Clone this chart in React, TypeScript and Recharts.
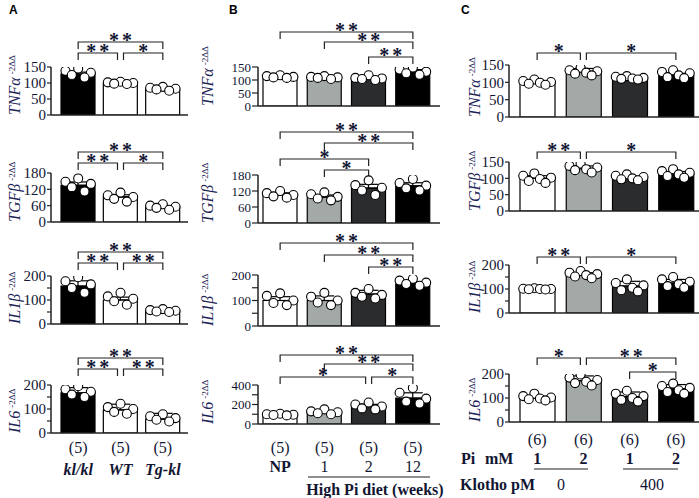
import React from 'react'
import { ComposedChart, Bar, Cell, ErrorBar, Scatter, XAxis, YAxis, ReferenceLine } from 'recharts'

const SERIF = '"Liberation Serif", "DejaVu Serif", serif'
const SANS = '"Liberation Sans", Arial, sans-serif'
const INK = '#121633'
const NAVY = '#1c2456'
const AX = '#222'

type Sig = [number, number, string]

// ---- groups / labels
const groupsA = ['kl/kl', 'WT', 'Tg-kl']
const countsA = ['(5)', '(5)', '(5)']
const groupsB = ['NP', '1 wk', '2 wk', '12 wk']
const countsB = ['(5)', '(5)', '(5)', '(5)']
const weeksB = ['NP', '1', '2', '12']
const groupsC = ['Pi1 K0', 'Pi2 K0', 'Pi1 K400', 'Pi2 K400']
const countsC = ['(6)', '(6)', '(6)', '(6)']
const piC = ['1', '2', '1', '2']
const klothoC = ['0', '400']

// ---- axis ticks
const ticks150 = [0, 50, 100, 150]
const ticks180 = [0, 60, 120, 180]
const ticks200 = [0, 50, 100, 150, 200]
const shown200 = [0, 100, 200]
const ticks400 = [0, 100, 200, 300, 400]
const shown400 = [0, 200, 400]

// ---- panel A
const aTnfMean = [128, 98, 80]
const aTnfErr = [6, 4, 3]
const aTnfDots = [[145, 138, 132, 125, 117], [104, 102, 100, 98, 97], [88, 85, 82, 80, 76]]
const aTnfSig: Sig[] = [[0, 2, '**'], [0, 1, '**'], [1, 2, '*']]

const aTgfMean = [135, 92, 55]
const aTgfErr = [12, 8, 5]
const aTgfDots = [[160, 148, 140, 128, 112], [108, 98, 92, 85, 75], [65, 60, 56, 52, 45]]
const aTgfSig: Sig[] = [[0, 2, '**'], [0, 1, '**'], [1, 2, '*']]

const aIl1Mean = [158, 100, 54]
const aIl1Err = [22, 12, 5]
const aIl1Dots = [[195, 178, 165, 150, 130], [130, 115, 105, 95, 80], [62, 58, 55, 52, 50]]
const aIl1Sig: Sig[] = [[0, 2, '**'], [0, 1, '**'], [1, 2, '**']]

const aIl6Mean = [167, 96, 58]
const aIl6Err = [22, 24, 24]
const aIl6Dots = [[195, 182, 172, 160, 150], [122, 108, 100, 88, 80], [78, 70, 62, 55, 48]]
const aIl6Sig: Sig[] = [[0, 2, '**'], [0, 1, '**'], [1, 2, '**']]

// ---- panel B
const bTnfMean = [112, 110, 106, 132]
const bTnfErr = [4, 4, 6, 8]
const bTnfDots = [[118, 115, 112, 110, 108], [115, 112, 110, 108, 104], [118, 108, 106, 104, 100], [148, 140, 132, 126, 120]]
const bTnfSig: Sig[] = [[0, 3, '**'], [1, 3, '**'], [2, 3, '**']]

const bTgfMean = [105, 97, 131, 139]
const bTgfErr = [8, 8, 14, 12]
const bTgfDots = [[120, 112, 105, 100, 95], [115, 108, 98, 92, 85], [160, 142, 132, 122, 105], [165, 150, 140, 130, 122]]
const bTgfSig: Sig[] = [[0, 3, '**'], [1, 3, '**'], [0, 2, '*'], [1, 2, '*']]

const bIl1Mean = [100, 100, 125, 165]
const bIl1Err = [15, 18, 15, 8]
const bIl1Dots = [[128, 118, 100, 90, 82], [130, 115, 100, 92, 82], [145, 130, 122, 115, 108], [185, 178, 170, 165, 158]]
const bIl1Sig: Sig[] = [[0, 3, '**'], [1, 3, '**'], [2, 3, '**']]

const bIl6Mean = [95, 120, 180, 265]
const bIl6Err = [8, 15, 22, 55]
const bIl6Dots = [[105, 100, 95, 92, 88], [150, 130, 120, 110, 100], [220, 200, 180, 160, 150], [370, 320, 260, 230, 210]]
const bIl6Sig: Sig[] = [[0, 3, '**'], [1, 3, '**'], [0, 2, '*'], [2, 3, '*']]

// ---- panel C
const cTnfMean = [100, 130, 112, 120]
const cTnfErr = [5, 10, 4, 6]
const cTnfDots = [[108, 104, 101, 99, 96, 93], [142, 135, 132, 128, 125, 120], [118, 116, 113, 111, 110, 108], [135, 130, 126, 120, 115, 112]]
const cTnfSig: Sig[] = [[0, 1, '*'], [1, 3, '*']]

const cTgfMean = [100, 130, 103, 113]
const cTgfErr = [8, 8, 4, 8]
const cTgfDots = [[115, 108, 102, 98, 92, 86], [145, 138, 133, 128, 125, 118], [112, 108, 104, 100, 97, 94], [128, 122, 117, 112, 107, 102]]
const cTgfSig: Sig[] = [[0, 1, '**'], [1, 3, '*']]

const cIl1Mean = [100, 158, 112, 125]
const cIl1Err = [3, 10, 20, 15]
const cIl1Dots = [[103, 101, 100, 100, 99, 98], [175, 168, 162, 158, 152, 145], [140, 125, 115, 105, 95, 90], [150, 140, 130, 120, 112, 105]]
const cIl1Sig: Sig[] = [[0, 1, '**'], [1, 3, '*']]

const cIl6Mean = [100, 172, 105, 138]
const cIl6Err = [6, 20, 20, 18]
const cIl6Dots = [[118, 108, 102, 98, 95, 90], [198, 185, 175, 168, 162, 152], [130, 118, 108, 100, 92, 85], [160, 150, 142, 132, 125, 118]]
const cIl6Sig: Sig[] = [[0, 1, '*'], [1, 3, '**'], [2, 3, '*']]

const colorsA = ['#000', '#fff', '#fff']
const colorsBC = ['#fff', '#a3a9a7', '#2a2c2e', '#000']

interface Panel { left: number; axisX: number; right: number; padL: number; padR: number; barW: number; tick: number; labOff: number; font: number }
const PA: Panel = { left: 0, axisX: 51, right: 188, padL: 6, padR: 4, barW: 34, tick: 4, labOff: 31, font: 15 }
const PB: Panel = { left: 195, axisX: 258, right: 440, padL: 0, padR: 5, barW: 34, tick: 6, labOff: 45, font: 13 }
const PC: Panel = { left: 455, axisX: 509, right: 699, padL: 5, padR: 0, barW: 35, tick: 4, labOff: 29, font: 15 }

interface Bottom { counts: string[]; names?: string[]; countDy: number; nameDy: number; bold: boolean[]; italic: boolean }

interface RowProps {
  groups: string[]; colors: string[]; means: number[]; errs: number[]; dots: number[][]
  sig: Sig[]; sigY: number[]; max: number; ticks: number[]; shown: number[]
  top: number; base: number; panel: Panel; bottom?: Bottom
}

const perm5 = [2, 0, 4, 1, 3]
const perm6 = [2, 0, 5, 3, 1, 4]

function BottomTick(props: any) {
  const { x, y, index, spec } = props
  const b: Bottom = spec
  return (
    <g>
      <text x={x} y={y + b.countDy} textAnchor="middle" fontFamily={SERIF} fontSize={16} fill={INK}>{b.counts[index]}</text>
      {b.names && (
        <text x={x} y={y + b.nameDy} textAnchor="middle" fontFamily={SERIF} fontSize={16}
          fontWeight={b.bold[index] ? 700 : 400} fontStyle={b.italic ? 'italic' : 'normal'} fill={INK}>{b.names[index]}</text>
      )}
    </g>
  )
}

function bracketShape(label: string, inL: number, inR: number) {
  return (sp: any) => {
    const x1 = sp.x1 + inL
    const x2 = sp.x2 - inR
    const y = sp.y1
    return (
      <g>
        <path d={`M${x1},${y + 7}V${y}H${x2}V${y + 7}`} fill="none" stroke={AX} strokeWidth={1.2} />
        <text x={(x1 + x2) / 2 + 1.5} y={y + 5} textAnchor="middle" fontFamily={SERIF} fontSize={20}
          fontWeight={700} letterSpacing={3} fill={INK}>{label}</text>
      </g>
    )
  }
}

function Row(p: RowProps) {
  const L = p.panel
  const MT = 80
  const MB = p.bottom ? 75 : 12
  const plotH = p.base - p.top
  const W = L.right - L.left
  const H = MT + plotH + 1 + MB
  const n = p.groups.length
  const table = p.groups.map((g, i) => ({ name: g, mean: p.means[i], err: [0, p.errs[i]] }))
  const pts = p.dots.flatMap((d, g) => {
    const perm = d.length === 6 ? perm6 : perm5
    return d.map((v, i) => ({ x: g + (perm[i] / (d.length - 1) - 0.5) * 0.6, v }))
  })
  const toVal = (y: number) => (p.max * (p.base - y)) / plotH
  return (
    <div style={{ position: 'absolute', left: L.left, top: p.top - MT }}>
      <ComposedChart width={W} height={H} data={table} margin={{ top: MT, right: 0, bottom: MB, left: 0 }}>
        <XAxis dataKey="name" height={1} padding={{ left: L.padL, right: L.padR }} interval={0}
          axisLine={{ stroke: AX, strokeWidth: 1.5 }} tickLine={false} tickSize={0} tickMargin={0}
          tick={p.bottom ? (tp: any) => <BottomTick {...tp} spec={p.bottom} /> : false} />
        <XAxis xAxisId="n" type="number" dataKey="x" domain={[-0.5, n - 0.5]} allowDataOverflow hide
          padding={{ left: L.padL, right: L.padR }} />
        <YAxis width={L.axisX - L.left} domain={[0, p.max]} ticks={p.ticks} interval={0} allowDataOverflow
          tickFormatter={(v: number) => (p.shown.includes(v) ? String(v) : '')}
          tickSize={L.tick} tickMargin={1}
          tick={{ fontSize: L.font, fontFamily: SERIF, fill: INK }}
          axisLine={{ stroke: AX, strokeWidth: 1.5 }} tickLine={{ stroke: AX, strokeWidth: 1.2 }} />
        <Bar dataKey="mean" barSize={L.barW} stroke="#000" strokeWidth={1.2} isAnimationActive={false}>
          {table.map((_, i) => <Cell key={i} fill={p.colors[i]} />)}
          <ErrorBar dataKey="err" direction="y" width={10} stroke="#000" strokeWidth={1.2} />
        </Bar>
        <Scatter xAxisId="n" data={pts} dataKey="v" isAnimationActive={false}
          shape={(sp: any) => <circle cx={sp.cx} cy={sp.cy} r={4.5} fill="#fff" stroke="#000" strokeWidth={1.1} />} />
        {p.sig.map(([a, b, lab], i) => {
          const y = p.sigY[i]
          const share = (idx: number) => p.sig.some(([a2, b2], j) => j !== i && p.sigY[j] === y && (a2 === idx || b2 === idx))
          return (
            <ReferenceLine key={i} xAxisId="n" ifOverflow="visible"
              segment={[{ x: a, y: toVal(y) }, { x: b, y: toVal(y) }]}
              shape={bracketShape(lab, share(a) ? 3 : 0, share(b) ? 3 : 0)} />
          )
        })}
      </ComposedChart>
    </div>
  )
}

function YLab({ x, y, name }: { x: number; y: number; name: string }) {
  return (
    <text transform={`translate(${x},${y}) rotate(-90)`} fontFamily={SERIF} fill={NAVY}>
      <tspan fontStyle="italic" fontSize={16}>{name}</tspan>
      <tspan fontSize={9} dx={3} dy={-5}>-2ΔΔ</tspan>
    </text>
  )
}

const botA: Bottom = { counts: countsA, names: groupsA, countDy: 20, nameDy: 42, bold: [true, true, true], italic: true }
const botB: Bottom = { counts: countsB, names: weeksB, countDy: 29, nameDy: 48, bold: [true, false, false, false], italic: false }
const botC: Bottom = { counts: countsC, names: piC, countDy: 23, nameDy: 42, bold: [true, true, true, true], italic: false }

const rows: (RowProps & { name: string })[] = [
  { name: 'TNFα', groups: groupsA, colors: colorsA, means: aTnfMean, errs: aTnfErr, dots: aTnfDots, sig: aTnfSig, sigY: [42, 53, 53], max: 150, ticks: ticks150, shown: ticks150, top: 67, base: 115, panel: PA },
  { name: 'TGFβ', groups: groupsA, colors: colorsA, means: aTgfMean, errs: aTgfErr, dots: aTgfDots, sig: aTgfSig, sigY: [152, 163, 163], max: 180, ticks: ticks180, shown: ticks180, top: 173, base: 222, panel: PA },
  { name: 'IL1β', groups: groupsA, colors: colorsA, means: aIl1Mean, errs: aIl1Err, dots: aIl1Dots, sig: aIl1Sig, sigY: [252, 263, 263], max: 200, ticks: ticks200, shown: shown200, top: 276, base: 324, panel: PA },
  { name: 'IL6', groups: groupsA, colors: colorsA, means: aIl6Mean, errs: aIl6Err, dots: aIl6Dots, sig: aIl6Sig, sigY: [358, 369, 369], max: 200, ticks: ticks200, shown: shown200, top: 385, base: 433, panel: PA, bottom: botA },

  { name: 'TNFα', groups: groupsB, colors: colorsBC, means: bTnfMean, errs: bTnfErr, dots: bTnfDots, sig: bTnfSig, sigY: [32, 42, 57], max: 150, ticks: ticks150, shown: ticks150, top: 67, base: 106, panel: PB },
  { name: 'TGFβ', groups: groupsB, colors: colorsBC, means: bTgfMean, errs: bTgfErr, dots: bTgfDots, sig: bTgfSig, sigY: [132, 143, 159, 170], max: 180, ticks: ticks180, shown: ticks180, top: 175, base: 223, panel: PB },
  { name: 'IL1β', groups: groupsB, colors: colorsBC, means: bIl1Mean, errs: bIl1Err, dots: bIl1Dots, sig: bIl1Sig, sigY: [243, 255, 267], max: 200, ticks: ticks200, shown: shown200, top: 275, base: 326, panel: PB },
  { name: 'IL6', groups: groupsB, colors: colorsBC, means: bIl6Mean, errs: bIl6Err, dots: bIl6Dots, sig: bIl6Sig, sigY: [355, 364, 377, 377], max: 400, ticks: ticks400, shown: shown400, top: 385, base: 424, panel: PB, bottom: botB },

  { name: 'TNFα', groups: groupsC, colors: colorsBC, means: cTnfMean, errs: cTnfErr, dots: cTnfDots, sig: cTnfSig, sigY: [53, 53], max: 150, ticks: ticks150, shown: ticks150, top: 65, base: 117, panel: PC },
  { name: 'TGFβ', groups: groupsC, colors: colorsBC, means: cTgfMean, errs: cTgfErr, dots: cTgfDots, sig: cTgfSig, sigY: [152, 152], max: 150, ticks: ticks150, shown: ticks150, top: 162, base: 211, panel: PC },
  { name: 'IL1β', groups: groupsC, colors: colorsBC, means: cIl1Mean, errs: cIl1Err, dots: cIl1Dots, sig: cIl1Sig, sigY: [257, 257], max: 200, ticks: ticks200, shown: shown200, top: 265, base: 313, panel: PC },
  { name: 'IL6', groups: groupsC, colors: colorsBC, means: cIl6Mean, errs: cIl6Err, dots: cIl6Dots, sig: cIl6Sig, sigY: [358, 358, 372], max: 200, ticks: ticks200, shown: shown200, top: 374, base: 422, panel: PC, bottom: botC },
]

export default function App() {
  const bold = { fontFamily: SERIF, fontSize: 16, fontWeight: 700, fill: INK } as const
  return (
    <div style={{ position: 'absolute', left: 0, top: 0, width: 699, height: 498, background: '#fff', overflow: 'hidden' }}>
      {rows.map((r, i) => <Row key={i} {...r} />)}
      <svg width={699} height={498} style={{ position: 'absolute', left: 0, top: 0, pointerEvents: 'none' }}>
        <text x={9} y={14} fontFamily={SANS} fontSize={12} fontWeight={700}>A</text>
        <text x={229} y={14} fontFamily={SANS} fontSize={12} fontWeight={700}>B</text>
        <text x={461} y={14} fontFamily={SANS} fontSize={12} fontWeight={700}>C</text>
        {rows.map((r, i) => <YLab key={i} x={r.panel.axisX - r.panel.labOff} y={r.base} name={r.name} />)}
        <line x1={308} x2={430} y1={477} y2={477} stroke={AX} strokeWidth={1.2} />
        <text x={375} y={495} textAnchor="middle" {...bold}>High Pi diet (weeks)</text>
        <text x={461} y={464} {...bold}>Pi</text>
        <text x={485} y={464} {...bold}>mM</text>
        <line x1={534} x2={588} y1={469} y2={469} stroke={AX} strokeWidth={1.2} />
        <line x1={623} x2={678} y1={469} y2={469} stroke={AX} strokeWidth={1.2} />
        <text x={460} y={490} {...bold}>Klotho pM</text>
        <text x={561} y={490} textAnchor="middle" fontFamily={SERIF} fontSize={16} fill={INK}>{klothoC[0]}</text>
        <text x={652} y={490} textAnchor="middle" fontFamily={SERIF} fontSize={16} fill={INK}>{klothoC[1]}</text>
      </svg>
    </div>
  )
}
